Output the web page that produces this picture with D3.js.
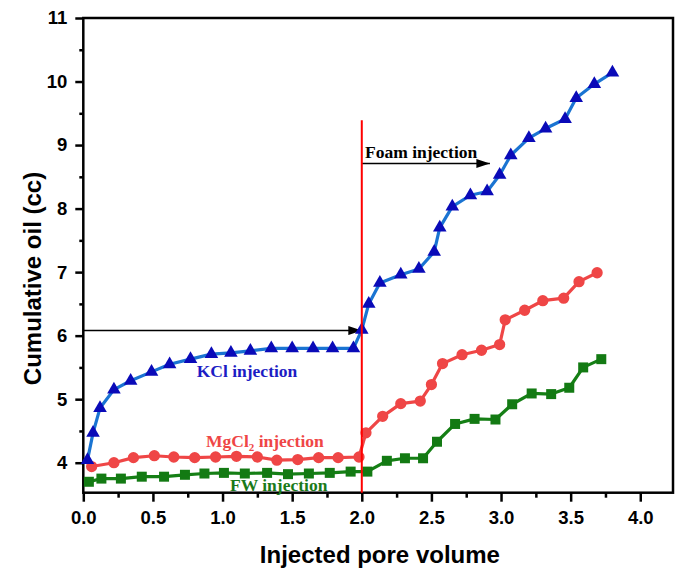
<!DOCTYPE html>
<html>
<head>
<meta charset="utf-8">
<script src="https://cdn.jsdelivr.net/npm/d3@7"></script>
<style>
    body { margin: 0; background: #fff; }
    #chart { width: 683px; height: 568px; }
    .tickLabel text { font-family: "Liberation Sans", Arial, sans-serif; font-weight: bold; font-size: 18.5px; fill: #000; }
    .axisTitle { font-family: "Liberation Sans", Arial, sans-serif; font-weight: bold; font-size: 24px; }
    .note { font-family: "Liberation Serif", "Times New Roman", serif; font-weight: bold; font-size: 17.5px; }
</style>
</head>
<body>
<div id="chart"></div>
<script>

// data
let kclX = [0.03, 0.07, 0.12, 0.22, 0.34, 0.49, 0.62, 0.77, 0.92, 1.06, 1.2, 1.35, 1.5, 1.65, 1.79, 1.94, 2.0, 2.05, 2.13, 2.28, 2.41, 2.52, 2.56, 2.65, 2.78, 2.9, 2.99, 3.07, 3.2, 3.32, 3.46, 3.54, 3.67, 3.8];
let kclY = [4.04, 4.47, 4.86, 5.15, 5.29, 5.43, 5.55, 5.63, 5.71, 5.73, 5.76, 5.8, 5.8, 5.8, 5.8, 5.8, 6.09, 6.5, 6.83, 6.96, 7.05, 7.32, 7.7, 8.03, 8.21, 8.27, 8.53, 8.84, 9.11, 9.26, 9.41, 9.74, 9.96, 10.14];

let mgX = [0.06, 0.22, 0.36, 0.51, 0.65, 0.8, 0.95, 1.1, 1.25, 1.39, 1.54, 1.69, 1.83, 1.98, 2.03, 2.15, 2.28, 2.42, 2.5, 2.58, 2.72, 2.86, 2.99, 3.03, 3.17, 3.3, 3.45, 3.56, 3.69];
let mgY = [3.94, 4.0, 4.08, 4.11, 4.09, 4.08, 4.09, 4.1, 4.09, 4.04, 4.05, 4.08, 4.08, 4.09, 4.47, 4.73, 4.93, 4.97, 5.23, 5.56, 5.7, 5.77, 5.86, 6.25, 6.4, 6.55, 6.59, 6.85, 6.99];

let fwX = [0.04, 0.13, 0.27, 0.42, 0.58, 0.73, 0.87, 1.01, 1.16, 1.32, 1.47, 1.62, 1.77, 1.92, 2.04, 2.18, 2.31, 2.44, 2.54, 2.67, 2.81, 2.96, 3.08, 3.22, 3.36, 3.49, 3.59, 3.72];
let fwY = [3.7, 3.75, 3.75, 3.78, 3.78, 3.81, 3.83, 3.84, 3.83, 3.84, 3.82, 3.83, 3.84, 3.86, 3.86, 4.03, 4.07, 4.07, 4.33, 4.61, 4.69, 4.68, 4.92, 5.09, 5.08, 5.18, 5.5, 5.63];

let xTicks = [0, 0.5, 1, 1.5, 2, 2.5, 3, 3.5, 4];
let xMinor = [0.25, 0.75, 1.25, 1.75, 2.25, 2.75, 3.25, 3.75];
let yTicks = [4, 5, 6, 7, 8, 9, 10, 11];
let yMinor = [4.5, 5.5, 6.5, 7.5, 8.5, 9.5, 10.5];

// annotation positions in data units
let switchPV = 2.0;      // start of foam injection
let switchTop = 9.39;
let kclArrowY = 6.08;
let foamArrow = {x0: 2.0, x1: 2.92, y: 8.71};


class OilChart {

    constructor(parentElement) {
        this.parentElement = parentElement;
        this.initVis();
    }

    initVis() {
        let vis = this;

        vis.margin = {top: 18, right: 10, bottom: 75.3, left: 83.3};
        vis.width = 683 - vis.margin.left - vis.margin.right;
        vis.height = 568 - vis.margin.top - vis.margin.bottom;

        vis.svg = d3.select("#" + vis.parentElement).append("svg")
            .attr("width", 683)
            .attr("height", 568)
            .append("g")
            .attr("transform", "translate(" + vis.margin.left + "," + vis.margin.top + ")");

        vis.x = d3.scaleLinear().domain([0, 4.235]).range([0, vis.width]);
        vis.y = d3.scaleLinear().domain([3.528, 11]).range([vis.height, 0]);

        // arrow marker
        vis.svg.append("defs").append("marker")
            .attr("id", "arrowHead")
            .attr("viewBox", "0 0 12 8")
            .attr("refX", 12)
            .attr("refY", 4)
            .attr("markerUnits", "userSpaceOnUse")
            .attr("markerWidth", 14)
            .attr("markerHeight", 9)
            .attr("orient", "auto")
            .append("path")
            .attr("d", "M0,0 L12,4 L0,8 Z")
            .attr("fill", "#000");

        vis.updateVis();
    }

    updateVis() {
        let vis = this;

        // axes
        vis.svg.append("g")
            .attr("class", "tickLabel")
            .attr("transform", "translate(0," + vis.height + ")")
            .call(d3.axisBottom(vis.x).tickValues(xTicks).tickSize(9).tickPadding(9).tickFormat(d3.format(".1f")));

        vis.svg.append("g")
            .attr("transform", "translate(0," + vis.height + ")")
            .call(d3.axisBottom(vis.x).tickValues(xMinor).tickSize(5).tickFormat(""));

        vis.svg.append("g")
            .attr("class", "tickLabel")
            .call(d3.axisLeft(vis.y).tickValues(yTicks).tickSize(8).tickPadding(8).tickFormat(d3.format("d")));

        vis.svg.append("g")
            .call(d3.axisLeft(vis.y).tickValues(yMinor).tickSize(4).tickFormat(""));

        vis.svg.selectAll(".domain").remove();
        vis.svg.selectAll(".tick line").attr("stroke", "#000").attr("stroke-width", 2.5);

        // frame
        vis.svg.append("rect")
            .attr("x", 0)
            .attr("y", 0)
            .attr("width", vis.width)
            .attr("height", vis.height)
            .attr("fill", "none")
            .attr("stroke", "#000")
            .attr("stroke-width", 2.5);

        // axis titles
        vis.svg.append("text")
            .attr("class", "axisTitle")
            .attr("x", vis.x(2.13))
            .attr("y", 563 - vis.margin.top)
            .attr("text-anchor", "middle")
            .text("Injected pore volume");

        vis.svg.append("text")
            .attr("class", "axisTitle")
            .attr("transform", "translate(" + (41 - vis.margin.left) + "," + vis.y(6.9) + ") rotate(-90)")
            .attr("text-anchor", "middle")
            .text("Cumulative oil (cc)");

        // arrows
        vis.svg.append("line")
            .attr("x1", vis.x(0))
            .attr("x2", vis.x(switchPV))
            .attr("y1", vis.y(kclArrowY))
            .attr("y2", vis.y(kclArrowY))
            .attr("stroke", "#000")
            .attr("stroke-width", 1.5)
            .attr("marker-end", "url(#arrowHead)");

        vis.svg.append("line")
            .attr("x1", vis.x(foamArrow.x0))
            .attr("x2", vis.x(foamArrow.x1))
            .attr("y1", vis.y(foamArrow.y))
            .attr("y2", vis.y(foamArrow.y))
            .attr("stroke", "#000")
            .attr("stroke-width", 1.5)
            .attr("marker-end", "url(#arrowHead)");

        // series
        let series = [
            {xs: fwX, ys: fwY, line: "#157f15", fill: "#137a13", shape: d3.symbolSquare, size: 100},
            {xs: mgX, ys: mgY, line: "#ef4646", fill: "#ef4646", shape: d3.symbolCircle, size: 100},
            {xs: kclX, ys: kclY, line: "#1a74d2", fill: "#0a0ab8", shape: d3.symbolTriangle, size: 80}
        ];

        series.forEach(function (s) {
            let pts = s.xs.map((x, i) => [x, s.ys[i]]);

            vis.svg.append("path")
                .datum(pts)
                .attr("fill", "none")
                .attr("stroke", s.line)
                .attr("stroke-width", 3.2)
                .attr("stroke-linejoin", "round")
                .attr("d", d3.line().x(d => vis.x(d[0])).y(d => vis.y(d[1])));

            vis.svg.selectAll(null)
                .data(pts)
                .enter()
                .append("path")
                .attr("transform", d => "translate(" + vis.x(d[0]) + "," + vis.y(d[1]) + ")")
                .attr("d", d3.symbol().type(s.shape).size(s.size))
                .attr("fill", s.fill);
        });

        // foam switch line
        vis.svg.append("line")
            .attr("x1", vis.x(switchPV))
            .attr("x2", vis.x(switchPV))
            .attr("y1", vis.y(switchTop))
            .attr("y2", vis.height)
            .attr("stroke", "#ff0000")
            .attr("stroke-width", 2);

        // notes
        vis.svg.append("text")
            .attr("class", "note")
            .attr("x", 196.7 - vis.margin.left)
            .attr("y", 377 - vis.margin.top)
            .attr("fill", "#1c1cc4")
            .text("KCl injection");

        let mg = vis.svg.append("text")
            .attr("class", "note")
            .attr("x", 206 - vis.margin.left)
            .attr("y", 447 - vis.margin.top)
            .attr("fill", "#ef4646");
        mg.append("tspan").text("MgCl");
        mg.append("tspan").attr("dy", 4).attr("font-size", "11px").text("2");
        mg.append("tspan").attr("dy", -4).text(" injection");

        vis.svg.append("text")
            .attr("class", "note")
            .attr("x", 230 - vis.margin.left)
            .attr("y", 491 - vis.margin.top)
            .attr("fill", "#1a7a1a")
            .text("FW injection");

        vis.svg.append("text")
            .attr("class", "note")
            .attr("x", 365 - vis.margin.left)
            .attr("y", 158 - vis.margin.top)
            .attr("fill", "#000")
            .text("Foam injection");
    }
}

new OilChart("chart");

</script>
</body>
</html>
